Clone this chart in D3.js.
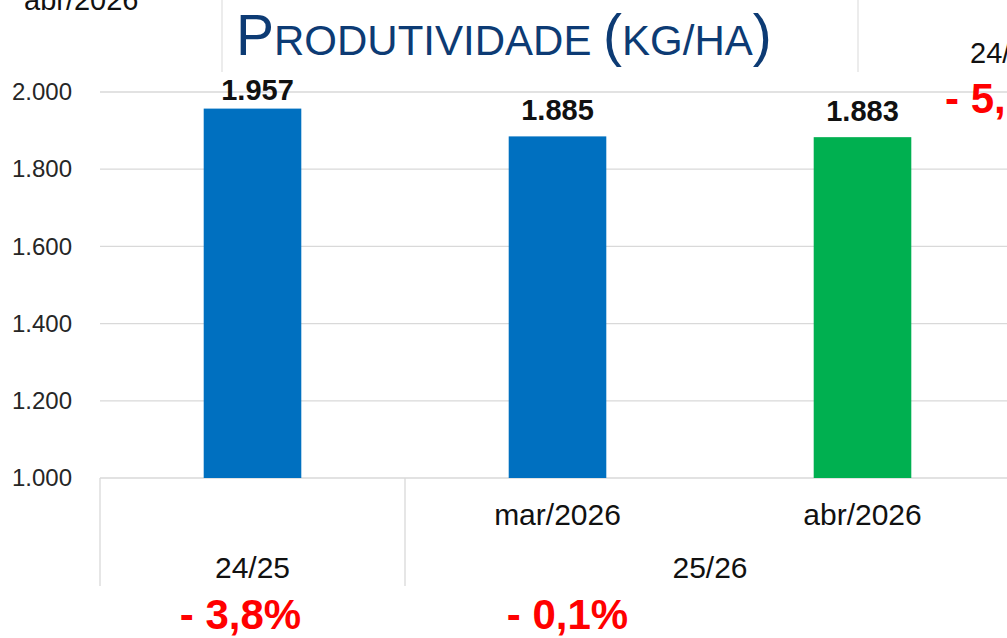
<!DOCTYPE html>
<html>
<head>
<meta charset="utf-8">
<script src="https://cdn.jsdelivr.net/npm/d3@7"></script>
<style>
  body { margin: 0; background: #fff; }
  svg { display: block; font-family: "Liberation Sans", Arial, sans-serif; }
</style>
</head>
<body>
<div id="chart"></div>
<script>
// ---- data ----
const categories = ["24/25", "mar/2026", "abr/2026"];
const subLabels = ["", "mar/2026", "abr/2026"];
const groups = ["24/25", "25/26"];
const groupOf = ["24/25", "25/26", "25/26"];
const values = [1957, 1885, 1883];
const yTicks = [1000, 1200, 1400, 1600, 1800, 2000];
const variations = ["- 3,8%", "- 0,1%"];
const sideTexts = ["abr/2026", "24/", "- 5,"];

const width = 1007, height = 638;
const margin = { top: 92, left: 100, bottom: 478, right: 1015 };

const locale = d3.formatLocale({ decimal: ",", thousands: ".", grouping: [3], currency: ["", ""] });
const fmt = locale.format(",.0f");

const svg = d3.select("#chart").append("svg")
    .attr("width", width)
    .attr("height", height);

// -------- Scales --------
const x = d3.scaleBand()
    .domain(categories)
    .range([margin.left, margin.right])
    .paddingInner(0.68)
    .paddingOuter(0.34);

const y = d3.scaleLinear()
    .domain([1000, 2000])
    .range([margin.bottom, margin.top]);

const color = d3.scaleOrdinal()
    .domain(categories)
    .range(["#0070C0", "#0070C0", "#00B050"]);

// -------- title box --------
svg.append("g")
    .selectAll("line")
    .data([222, 858])
    .join("line")
    .attr("x1", d => d).attr("x2", d => d)
    .attr("y1", 0).attr("y2", 72)
    .attr("stroke", "#d9d9d9");

const title = svg.append("text")
    .attr("x", 236)
    .attr("y", 55)
    .attr("fill", "#0D3B74");
[["P", 57], ["RODUTIVIDADE ", 42], ["(", 57], ["KG/HA", 42], [")", 57]]
    .forEach(([t, s]) => title.append("tspan").attr("font-size", s).text(t));

// -------- grid --------
svg.append("g")
    .selectAll("line")
    .data(yTicks)
    .join("line")
    .attr("x1", margin.left)
    .attr("x2", margin.right)
    .attr("y1", d => y(d))
    .attr("y2", d => y(d))
    .attr("stroke", "#d9d9d9")
    .attr("stroke-width", 1.3);

// -------- Y axis --------
svg.append("g")
    .attr("transform", `translate(${margin.left - 28},0)`)
    .call(d3.axisLeft(y).tickValues(yTicks).tickSize(0).tickPadding(0).tickFormat(fmt))
    .call(g => g.select(".domain").remove())
    .call(g => g.selectAll("text")
        .attr("font-family", "Liberation Sans, Arial, sans-serif")
        .attr("font-size", 24)
        .attr("fill", "#262626"));

// -------- Bars --------
const data = categories.map((c, i) => ({ cat: c, value: values[i] }));

svg.append("g")
    .selectAll("rect")
    .data(data)
    .join("rect")
    .attr("x", d => x(d.cat))
    .attr("y", d => y(d.value))
    .attr("width", x.bandwidth())
    .attr("height", d => y(1000) - y(d.value))
    .attr("fill", d => color(d.cat));

// -------- Value labels --------
svg.append("g")
    .selectAll("text")
    .data(data)
    .join("text")
    .attr("x", d => x(d.cat) + x.bandwidth() / 2 + (d.value > 1950 ? 5 : 0))
    .attr("y", d => Math.max(y(d.value) - 16, 100))
    .attr("text-anchor", "middle")
    .attr("font-size", 29)
    .attr("font-weight", "bold")
    .attr("fill", "#111")
    .text(d => fmt(d.value));

// -------- multi level category axis --------
const step = x.step();
const bandStart = c => x(c) - step * x.paddingOuter();
const groupSpan = groups.map(g => {
    const cats = categories.filter((c, i) => groupOf[i] === g);
    return { g, x0: bandStart(cats[0]), x1: bandStart(cats[cats.length - 1]) + step };
});

const seps = [groupSpan[0].x0, ...groupSpan.map(s => s.x1)];
svg.append("g")
    .selectAll("line")
    .data(seps)
    .join("line")
    .attr("x1", d => d).attr("x2", d => d)
    .attr("y1", y(1000)).attr("y2", 586)
    .attr("stroke", "#d9d9d9")
    .attr("stroke-width", 1.3);

svg.append("g")
    .selectAll("text")
    .data(categories)
    .join("text")
    .attr("x", d => x(d) + x.bandwidth() / 2)
    .attr("y", 525)
    .attr("text-anchor", "middle")
    .attr("font-size", 30)
    .attr("fill", "#111")
    .text((d, i) => subLabels[i]);

svg.append("g")
    .selectAll("text")
    .data(groupSpan)
    .join("text")
    .attr("x", d => (d.x0 + d.x1) / 2)
    .attr("y", 578)
    .attr("text-anchor", "middle")
    .attr("font-size", 30)
    .attr("fill", "#111")
    .text(d => d.g);

// -------- variation notes --------
const varX = [x(categories[0]) + x.bandwidth() / 2 - 12, x(categories[1]) + x.bandwidth() / 2 + 10];
svg.append("g")
    .selectAll("text")
    .data(variations)
    .join("text")
    .attr("x", (d, i) => varX[i])
    .attr("y", 629)
    .attr("text-anchor", "middle")
    .attr("font-size", 42)
    .attr("font-weight", "bold")
    .attr("fill", "#FF0000")
    .text(d => d);

// -------- cut-off slide texts --------
const sidePos = [
    { x: 24, y: 10, size: 29, weight: "normal", fill: "#111" },
    { x: 970, y: 63, size: 29, weight: "normal", fill: "#111" },
    { x: 945, y: 113, size: 42, weight: "bold", fill: "#FF0000" }
];
svg.append("g")
    .selectAll("text")
    .data(sideTexts)
    .join("text")
    .attr("x", (d, i) => sidePos[i].x)
    .attr("y", (d, i) => sidePos[i].y)
    .attr("font-size", (d, i) => sidePos[i].size)
    .attr("font-weight", (d, i) => sidePos[i].weight)
    .attr("fill", (d, i) => sidePos[i].fill)
    .text(d => d);
</script>
</body>
</html>
